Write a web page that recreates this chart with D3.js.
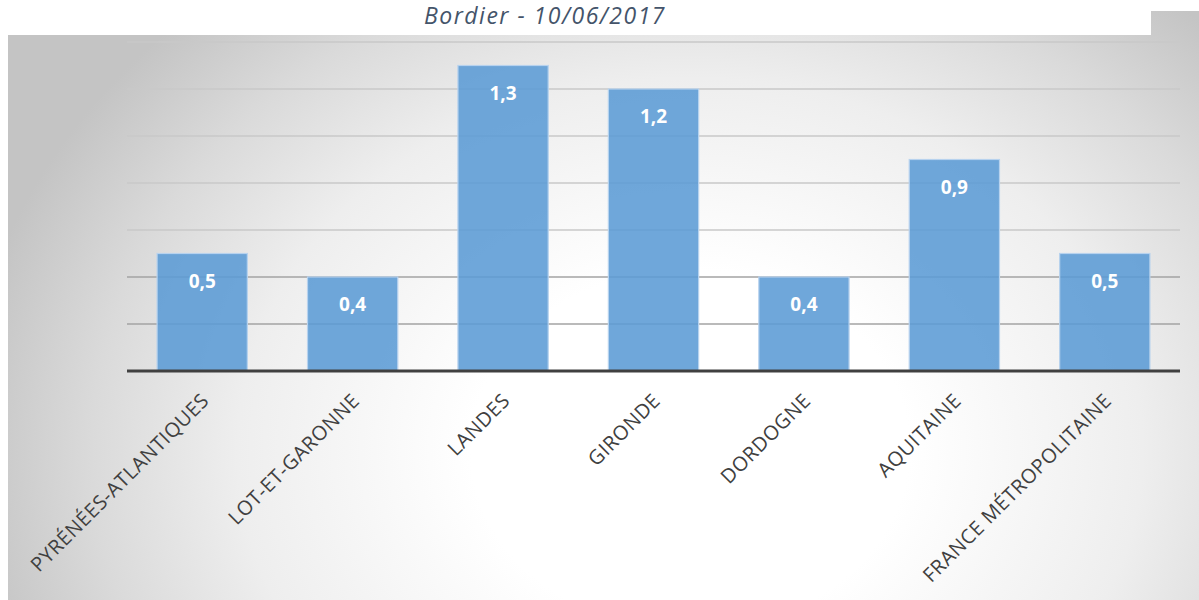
<!DOCTYPE html>
<html>
<head>
<meta charset="utf-8">
<script src="https://cdn.jsdelivr.net/npm/d3@7"></script>
<style>
  html, body { margin: 0; padding: 0; background: #fff; }
  svg { display: block; }
</style>
</head>
<body>
<svg id="chart" width="1199" height="600"></svg>
<script>
// data
var categories = ["PYRÉNÉES-ATLANTIQUES", "LOT-ET-GARONNE", "LANDES", "GIRONDE",
                  "DORDOGNE", "AQUITAINE", "FRANCE MÉTROPOLITAINE"];
var values     = [0.5, 0.4, 1.3, 1.2, 0.4, 0.9, 0.5];
var gridTicks  = [0.2, 0.4, 0.6, 0.8, 1.0, 1.2, 1.4];
var title      = "Bordier - 10/06/2017";

var width  = 1199;
var height = 600;
var svg = d3.select('#chart');

var plot_left   = 127;
var plot_right  = 1180;
var plot_top    = 42;
var plot_bottom = 371;

var x = d3.scaleBand()
  .domain(categories)
  .range([plot_left, plot_right])
  .paddingInner(0.4)
  .paddingOuter(0.2);

var y = d3.scaleLinear()
  .domain([0, 1.4])
  .range([plot_bottom, plot_top]);

// background panel with radial shading
var defs = svg.append('defs');
var grad = defs.append('radialGradient')
  .attr('id', 'bg')
  .attr('gradientUnits', 'userSpaceOnUse')
  .attr('cx', 0).attr('cy', 0).attr('r', 1)
  .attr('gradientTransform', 'translate(690,450) scale(730,600)');
[[0, '#ffffff'], [0.3, '#ffffff'], [0.62, '#eeeeee'], [0.82, '#dadada'], [1, '#c4c4c4']]
  .forEach(function (s) {
    grad.append('stop').attr('offset', s[0]).attr('stop-color', s[1]);
  });

svg.append('path')
  .attr('d', 'M8,35 L1151,35 L1151,11 L1199,11 L1199,600 L8,600 Z')
  .attr('fill', 'url(#bg)');

// gridlines
svg.append('g')
  .selectAll('line')
  .data(gridTicks)
  .enter().append('line')
    .attr('x1', plot_left)
    .attr('x2', plot_right)
    .attr('y1', function (d) { return y(d); })
    .attr('y2', function (d) { return y(d); })
    .attr('stroke', function (d) { return d <= 0.4 ? '#a3a3a3' : '#c9c9c9'; })
    .attr('stroke-width', 1.5);

// bars
svg.append('g')
  .selectAll('rect')
  .data(values)
  .enter().append('rect')
    .attr('x', function (d, i) { return x(categories[i]); })
    .attr('y', function (d) { return y(d); })
    .attr('width', x.bandwidth())
    .attr('height', function (d) { return y(0) - y(d); })
    .attr('fill', '#5b9bd5')
    .attr('fill-opacity', 0.88)
    .attr('stroke', '#b7d2ee')
    .attr('stroke-width', 1.2);

// value labels
svg.append('g')
  .selectAll('text')
  .data(values)
  .enter().append('text')
    .attr('x', function (d, i) { return x(categories[i]) + x.bandwidth() / 2; })
    .attr('y', function (d) { return y(d) + 34; })
    .attr('text-anchor', 'middle')
    .style('font-family', '"Open Sans", sans-serif')
    .style('font-size', '19px')
    .style('font-weight', 'bold')
    .style('fill', '#ffffff')
    .text(function (d) { return d3.format('.1f')(d).replace('.', ','); });

// axis baseline
svg.append('line')
  .attr('x1', plot_left)
  .attr('x2', plot_right)
  .attr('y1', y(0))
  .attr('y2', y(0))
  .attr('stroke', '#404040')
  .attr('stroke-width', 3);

// category labels, rotated
svg.append('g')
  .selectAll('text')
  .data(categories)
  .enter().append('text')
    .attr('transform', function (d) {
      return 'translate(' + (x(d) + x.bandwidth() / 2 + 8) + ',' + 402 + ') rotate(-45)';
    })
    .attr('text-anchor', 'end')
    .style('font-family', '"Open Sans", sans-serif')
    .style('font-size', '20px')
    .style('letter-spacing', '0.5px')
    .style('fill', '#404040')
    .text(function (d) { return d; });

// title
svg.append('text')
  .attr('x', 545)
  .attr('y', 24)
  .attr('text-anchor', 'middle')
  .style('font-family', '"Open Sans", sans-serif')
  .style('font-style', 'italic')
  .style('font-size', '23px')
  .style('letter-spacing', '1.5px')
  .style('fill', '#44546a')
  .text(title);
</script>
</body>
</html>
